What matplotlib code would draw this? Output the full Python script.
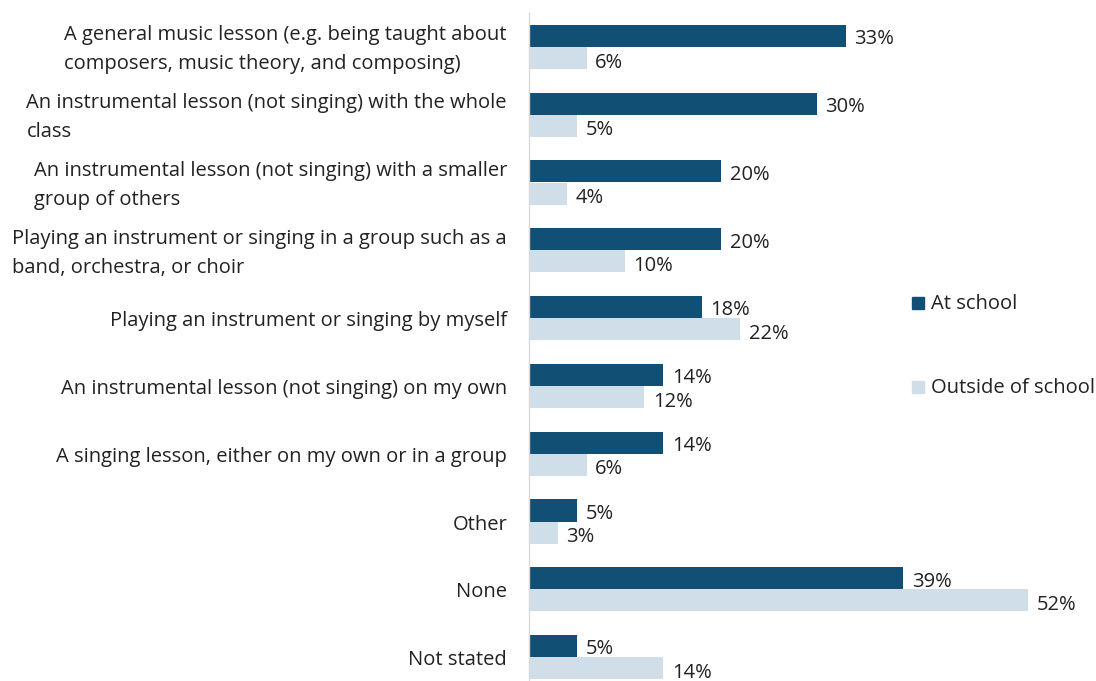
import matplotlib
matplotlib.use("Agg")
import matplotlib.pyplot as plt
import matplotlib.transforms as mtransforms
import numpy as np
from matplotlib.patches import Rectangle

categories = [
    "A general music lesson (e.g. being taught about\ncomposers, music theory, and composing)",
    "An instrumental lesson (not singing) with the whole\nclass",
    "An instrumental lesson (not singing) with a smaller\ngroup of others",
    "Playing an instrument or singing in a group such as a\nband, orchestra, or choir",
    "Playing an instrument or singing by myself",
    "An instrumental lesson (not singing) on my own",
    "A singing lesson, either on my own or in a group",
    "Other",
    "None",
    "Not stated",
]
at_school = [33, 30, 20, 20, 18, 14, 14, 5, 39, 5]
outside_school = [6, 5, 4, 10, 22, 12, 6, 3, 52, 14]
series_names = ["At school", "Outside of school"]

dark = "#114F75"
light = "#D0DEEA"

plt.rcParams['font.family'] = ['Open Sans', 'DejaVu Sans']
FS = 14.5

W, H = 1096, 681
fig = plt.figure(figsize=(W / 100, H / 100), dpi=100)
left = 529 / W
xmax = 59
scale = 9.596
width = xmax * scale / W
top_px = 13
bottom_px = 691
ax = fig.add_axes([left, 1 - bottom_px / H, width, (bottom_px - top_px) / H])

y = np.arange(len(categories))
bh = 0.325
ax.barh(y - bh / 2, at_school, height=bh, color=dark, clip_on=False)
ax.barh(y + bh / 2, outside_school, height=bh, color=light, clip_on=False)

for i in range(len(categories)):
    ax.text(at_school[i] + 0.9, y[i] - bh / 2 + 0.05, f"{at_school[i]}%", va="center", ha="left",
            fontsize=FS, color="#222222")
    ax.text(outside_school[i] + 0.9, y[i] + bh / 2 + 0.07, f"{outside_school[i]}%", va="center", ha="left",
            fontsize=FS, color="#222222")

ax.set_xlim(0, xmax)
ax.set_ylim(len(categories) - 0.5, -0.5)
ax.set_yticks([])
ax.set_xticks([])

# category labels (multi-line blocks right-aligned, lines left-aligned)
for i, lab in enumerate(categories):
    tr = mtransforms.offset_copy(ax.get_yaxis_transform(), fig=fig, x=-22 / 100 * 72,
                                 y=-3 / 100 * 72, units="points")
    ax.text(0, y[i], lab, transform=tr, ha="right", va="center", multialignment="left",
            fontsize=FS, color="#222222", linespacing=1.6)

for s in ["top", "right", "bottom"]:
    ax.spines[s].set_visible(False)
ax.spines["left"].set_color("#D9D9D9")
ax.spines["left"].set_linewidth(1)

# legend
for (ypx, col, name) in [(302, dark, series_names[0]), (386, light, series_names[1])]:
    fig.patches.append(Rectangle((912 / W, 1 - (ypx + 7) / H), 12 / W, 12 / H,
                                 transform=fig.transFigure, color=col))
    fig.text(931 / W, 1 - (ypx + 2) / H, name, fontsize=FS, color="#222222", va="center", ha="left")

fig.savefig("out.png", dpi=100)
